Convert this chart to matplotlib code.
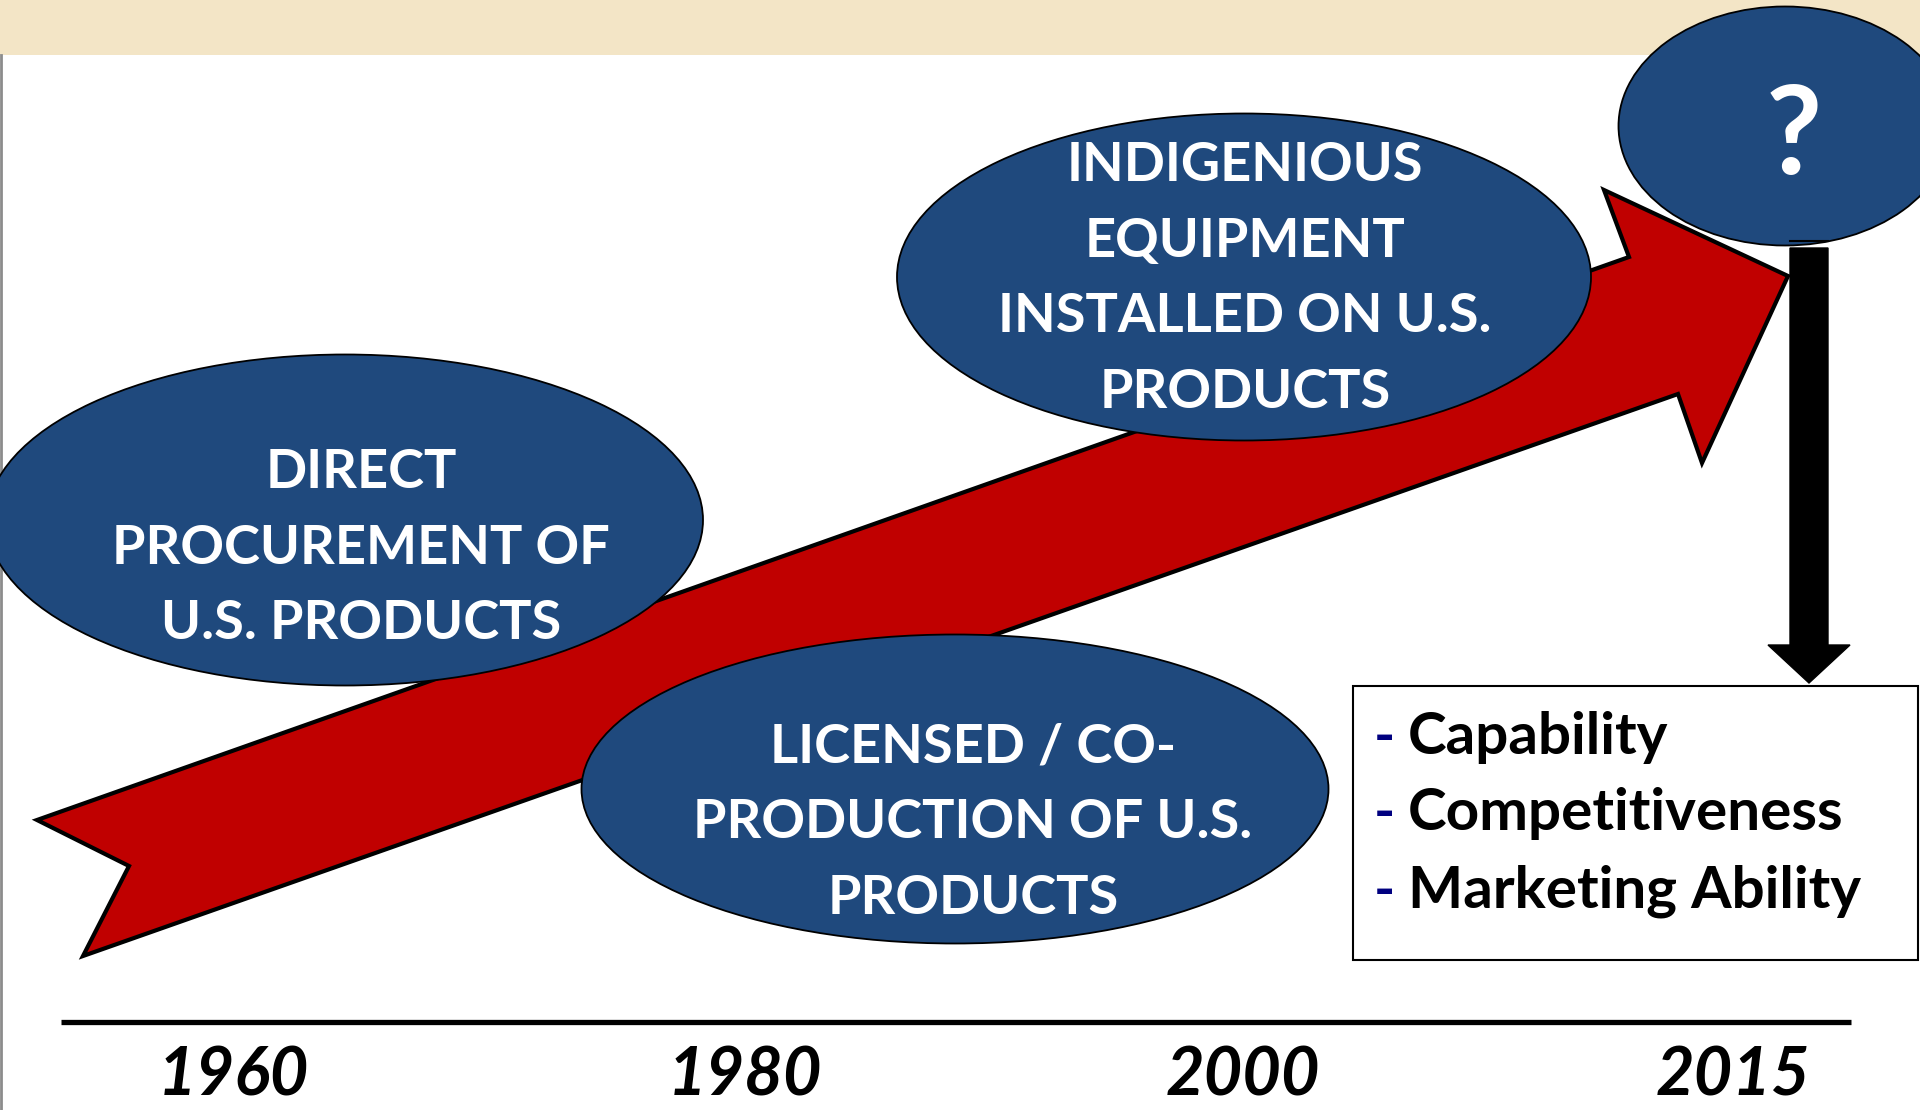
import matplotlib
matplotlib.use("Agg")
import matplotlib.pyplot as plt
import matplotlib.patches as patches

# timeline content
years = ["1960", "1980", "2000", "2015"]
stages = [
    "DIRECT\nPROCUREMENT OF\nU.S. PRODUCTS",
    "LICENSED / CO-\nPRODUCTION OF U.S.\nPRODUCTS",
    "INDIGENIOUS\nEQUIPMENT\nINSTALLED ON U.S.\nPRODUCTS",
    "?",
]
outcomes = ["Capability", "Competitiveness", "Marketing Ability"]

BLUE = "#1F497D"
RED = "#C00000"
BEIGE = "#F3E5C6"
FONT = ["Lato", "DejaVu Sans"]

fig = plt.figure(figsize=(19.2, 11.1), dpi=100)
ax = fig.add_axes([0, 0, 1, 1])
ax.set_xlim(0, 1920)
ax.set_ylim(1110, 0)
ax.axis("off")

# top band + left border line
ax.add_patch(patches.Rectangle((0, 0), 1920, 55, facecolor=BEIGE, edgecolor="none", zorder=1))
ax.plot([1, 1], [55, 1110], color="#8c8c8c", lw=2, zorder=1)

# big red arrow
arrow_pts = [(37, 820), (129, 866), (83, 956), (1678, 394), (1702, 463),
             (1788, 276), (1604, 190), (1629, 257)]
ax.add_patch(patches.Polygon(arrow_pts, closed=True, facecolor=RED,
                             edgecolor="black", lw=3, joinstyle="miter", zorder=2))

# ellipses with stage labels
ell = [
    ((345, 520), 716, 331),
    ((955, 789), 747, 309),
    ((1244, 277), 694, 327),
    ((1785, 126), 333, 239),
]
text_pos = [(361, 548), (973, 823), (1245, 279), (1794, 139)]
for i, (c, w, h) in enumerate(ell):
    ax.add_patch(patches.Ellipse(c, w, h, facecolor=BLUE, edgecolor="black",
                                 lw=1.3, zorder=3))
    size = 88 if stages[i] == "?" else 39
    ax.text(text_pos[i][0], text_pos[i][1], stages[i], color="white",
            fontsize=size, fontweight="bold", family=FONT, ha="center",
            va="center", linespacing=1.67, zorder=4)

# black down arrow from "?" to box
ax.plot([1790, 1828], [241, 241], color="black", lw=1.5, zorder=3)
ax.add_patch(patches.FancyArrow(1809, 248, 0, 435, width=38, head_width=82,
                                head_length=38, length_includes_head=True,
                                facecolor="black", edgecolor="black", zorder=3))

# outcome box
ax.add_patch(patches.Rectangle((1353, 686), 565, 274, facecolor="white",
                               edgecolor="black", lw=1.5, zorder=3))
for j, item in enumerate(outcomes):
    y = 737 + j * 77
    ax.text(1374, y, "-", color="#000080", fontsize=41, fontweight="bold",
            family=FONT, ha="left", va="center", zorder=4)
    ax.text(1408, y, item, color="black", fontsize=42, fontweight="bold",
            family=FONT, ha="left", va="center", zorder=4)

# timeline
ax.plot([61, 1851], [1022, 1022], color="black", lw=3.8, solid_capstyle="butt", zorder=2)
year_x = [233, 745, 1243, 1733]
for x, yr in zip(year_x, years):
    ax.text(x, 1076, yr, fontsize=48, fontweight="bold", fontstyle="italic",
            family=FONT, ha="center", va="center", color="black")

fig.savefig("out.png", dpi=100, facecolor="white")
